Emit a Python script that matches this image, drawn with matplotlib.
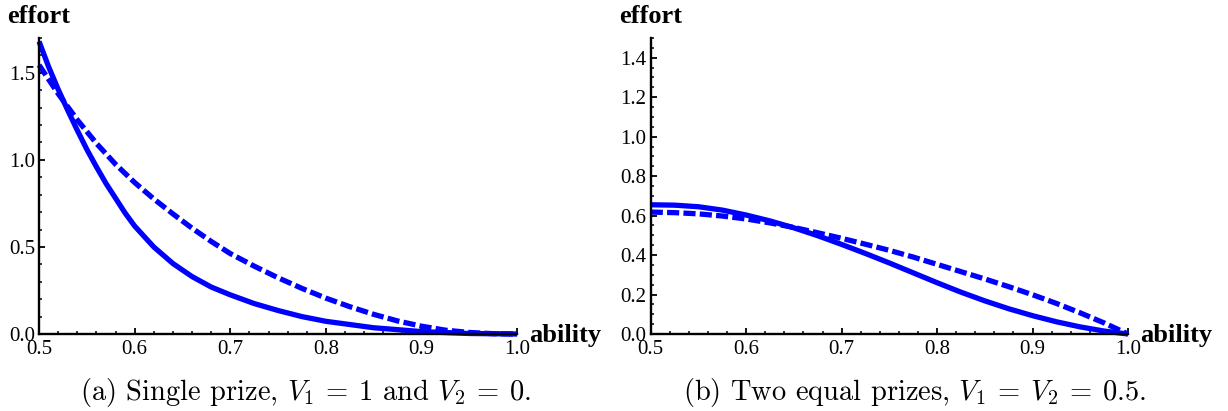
import matplotlib
matplotlib.use("Agg")
import matplotlib.pyplot as plt
from matplotlib.ticker import MultipleLocator, FormatStrFormatter

plt.rcParams["mathtext.fontset"] = "cm"
plt.rcParams["axes.formatter.use_mathtext"] = True

# (a) single prize, V1 = 1 and V2 = 0
ability_a = [0.50, 0.51, 0.52, 0.53, 0.54, 0.55, 0.56, 0.57, 0.58, 0.59, 0.60,
             0.62, 0.64, 0.66, 0.68, 0.70, 0.725, 0.75, 0.775, 0.80, 0.85,
             0.90, 0.95, 1.00]
solid_a = [1.68, 1.535, 1.405, 1.285, 1.17, 1.06, 0.96, 0.865, 0.78, 0.695, 0.62,
           0.50, 0.405, 0.33, 0.27, 0.225, 0.175, 0.135, 0.10, 0.073, 0.036,
           0.014, 0.003, 0.0]
ability_a2 = [0.50, 0.52, 0.54, 0.56, 0.58, 0.60, 0.62, 0.64, 0.66, 0.68, 0.70,
              0.725, 0.75, 0.775, 0.80, 0.825, 0.85, 0.875, 0.90, 0.925, 0.95,
              0.975, 1.00]
dashed_a = [1.545, 1.38, 1.23, 1.095, 0.975, 0.87, 0.776, 0.69, 0.608, 0.532,
            0.462, 0.39, 0.323, 0.262, 0.206, 0.157, 0.113, 0.075, 0.045, 0.022,
            0.009, 0.002, 0.0]

# (b) two equal prizes, V1 = V2 = 0.5
ability_b = [0.5, 0.525, 0.55, 0.575, 0.6, 0.625, 0.65, 0.675, 0.7, 0.725, 0.75,
             0.775, 0.8, 0.825, 0.85, 0.875, 0.9, 0.925, 0.95, 0.975, 1.0]
solid_b = [0.655, 0.653, 0.645, 0.628, 0.603, 0.573, 0.538, 0.498, 0.454, 0.408,
           0.36, 0.31, 0.26, 0.212, 0.168, 0.128, 0.093, 0.062, 0.036, 0.015, 0.0]
dashed_b = [0.618, 0.615, 0.609, 0.598, 0.583, 0.563, 0.54, 0.513, 0.485, 0.455,
            0.424, 0.39, 0.353, 0.316, 0.279, 0.24, 0.199, 0.155, 0.107, 0.056, 0.0]

captions = [r"(a) Single prize, $V_1\:=\:1$ and $V_2\:=\:0$.",
            r"(b) Two equal prizes, $V_1\:=\:V_2\:=\:0.5$."]

blue = (0, 0, 1)
tick_font = dict(family="Liberation Serif", size=15)
label_font = dict(family="Liberation Serif", size=19, weight="bold")

fig = plt.figure(figsize=(12.28, 4.11), dpi=100)
ax_a = fig.add_axes([0.0318, 0.1873, 0.3893, 0.7202])
ax_b = fig.add_axes([0.5299, 0.1873, 0.3887, 0.7202])

ax_a.plot(ability_a, solid_a, color=blue, lw=3.8, clip_on=False,
          solid_capstyle="butt")
ax_a.plot(ability_a2, dashed_a, color=blue, lw=3.8, clip_on=False,
          dashes=(2.3, 0.8), dash_capstyle="butt")
ax_b.plot(ability_b, solid_b, color=blue, lw=3.8, clip_on=False,
          solid_capstyle="butt")
ax_b.plot(ability_b, dashed_b, color=blue, lw=3.8, clip_on=False,
          dashes=(2.3, 0.8), dash_capstyle="butt")

ax_a.set_ylim(0, 1.7)
ax_a.yaxis.set_major_locator(MultipleLocator(0.5))
ax_a.yaxis.set_minor_locator(MultipleLocator(0.1))
ax_b.set_ylim(0, 1.5)
ax_b.yaxis.set_major_locator(MultipleLocator(0.2))
ax_b.yaxis.set_minor_locator(MultipleLocator(0.05))

for ax in [ax_a, ax_b]:
    ax.set_xlim(0.5, 1.0)
    ax.xaxis.set_major_locator(MultipleLocator(0.1))
    ax.xaxis.set_minor_locator(MultipleLocator(0.02))
    ax.xaxis.set_major_formatter(FormatStrFormatter("%.1f"))
    ax.yaxis.set_major_formatter(FormatStrFormatter("%.1f"))
    for s in ["top", "right"]:
        ax.spines[s].set_visible(False)
    for s in ["left", "bottom"]:
        ax.spines[s].set_linewidth(1.7)
    ax.tick_params(which="major", direction="in", length=4.5, width=1.3)
    ax.tick_params(which="minor", direction="in", length=2.5, width=1.1)
    ax.tick_params(axis="x", which="major", pad=4)
    ax.tick_params(axis="y", which="major", pad=3)
    for lab in ax.get_xticklabels() + ax.get_yticklabels():
        lab.set_fontfamily(tick_font["family"])
        lab.set_fontsize(tick_font["size"])
    ax.annotate("effort", xy=(0, 1), xycoords="axes fraction",
                xytext=(0, 11), textcoords="offset points",
                ha="center", va="baseline", **label_font)
    ax.annotate("ability", xy=(1, 0), xycoords="axes fraction",
                xytext=(9, -5.4), textcoords="offset points",
                ha="left", va="baseline", **label_font)

fig.text(306 / 1228, 1 - 400 / 411, captions[0], ha="center", va="baseline",
         family="cmr10", size=20.5)
fig.text(915 / 1228, 1 - 400 / 411, captions[1], ha="center", va="baseline",
         family="cmr10", size=20.5)

fig.savefig("out.png", dpi=100)
